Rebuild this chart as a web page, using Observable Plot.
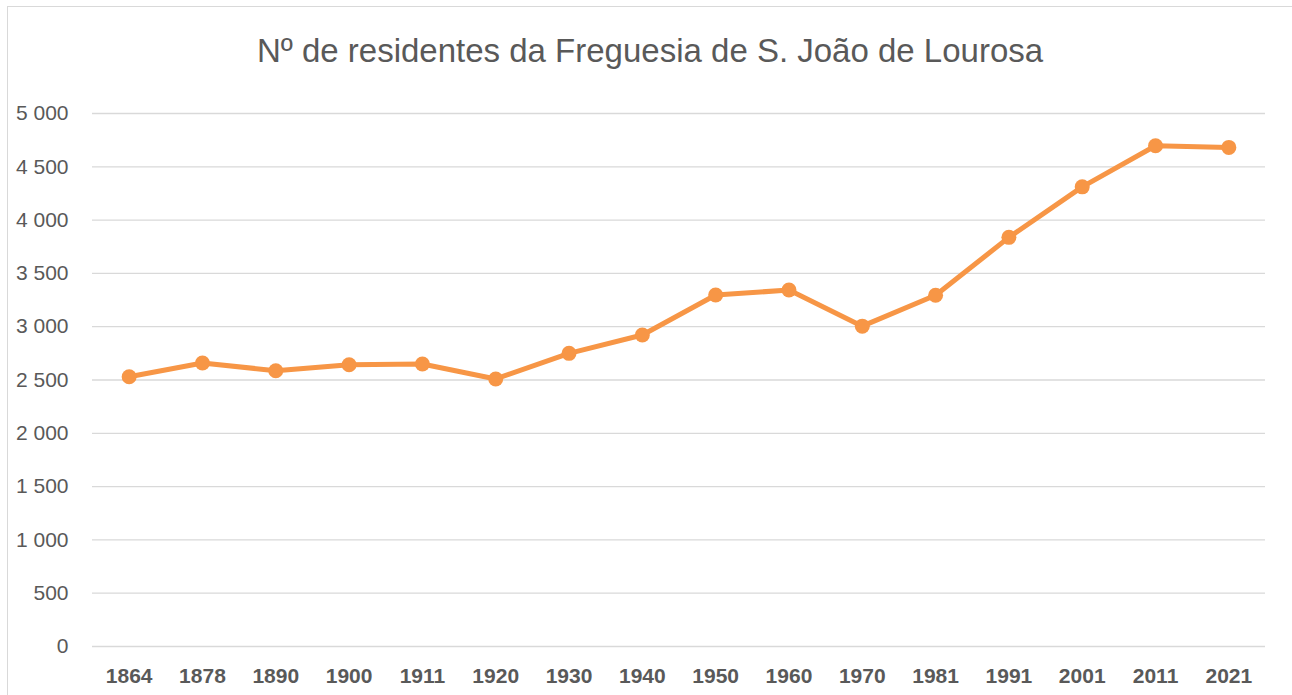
<!DOCTYPE html>
<html>
<head>
<meta charset="utf-8">
<script src="https://cdn.jsdelivr.net/npm/d3@7"></script>
<script src="https://cdn.jsdelivr.net/npm/@observablehq/plot@0.6"></script>
<style>
  html, body { margin: 0; padding: 0; background: #fff; }
  #wrap { position: relative; width: 1292px; height: 695px; overflow: hidden; }
  #frame { position: absolute; left: 7px; top: 6px; width: 1300px; height: 700px; border: 1px solid #d9d9d9; box-sizing: border-box; }
  #title { position: absolute; left: 8px; width: 1284px; top: 34px; text-align: center; font-family: "Liberation Sans", Arial, sans-serif; font-size: 33px; line-height: 1; color: #595959; }
  #chart { position: absolute; left: 0; top: 80px; }
</style>
</head>
<body>
<div id="wrap">
  <div id="frame"></div>
  <div id="title">Nº de residentes da Freguesia de S. João de Lourosa</div>
  <div id="chart"></div>
</div>
<script>
const years = ["1864","1878","1890","1900","1911","1920","1930","1940","1950","1960","1970","1981","1991","2001","2011","2021"];
const residents = [2531, 2660, 2587, 2643, 2650, 2510, 2750, 2922, 3297, 3344, 3005, 3295, 3838, 4312, 4697, 4682];
const yTicks = [0, 500, 1000, 1500, 2000, 2500, 3000, 3500, 4000, 4500, 5000];

const data = years.map((y, i) => ({year: y, value: residents[i]}));
const fmt = d3.formatLocale({decimal: ",", thousands: " ", grouping: [3], currency: ["", "€"]}).format(",");

const chart = Plot.plot({
  width: 1292,
  height: 615,
  marginLeft: 92,
  marginRight: 27,
  marginTop: 33,
  marginBottom: 49,
  style: {fontFamily: "Liberation Sans, Arial, sans-serif", fontSize: "21px", color: "#595959", background: "transparent"},
  x: {type: "point", domain: years, padding: 0.5, round: false, label: null},
  y: {domain: [0, 5000], ticks: yTicks, label: null},
  marks: [
    Plot.gridY(yTicks, {stroke: "#d9d9d9", strokeOpacity: 1, strokeWidth: 1.3}),
    Plot.axisY(yTicks, {tickSize: 0, tickPadding: 24, tickFormat: fmt, fontSize: 21, label: null}),
    Plot.axisX({tickSize: 0, tickPadding: 22, fontSize: 21, fontWeight: "bold", label: null}),
    Plot.lineY(data, {x: "year", y: "value", stroke: "#F79646", strokeWidth: 5, strokeLinejoin: "round"}),
    Plot.dot(data, {x: "year", y: "value", r: 7.5, fill: "#F79646", stroke: "none"})
  ]
});
document.getElementById("chart").appendChild(chart);
</script>
</body>
</html>
